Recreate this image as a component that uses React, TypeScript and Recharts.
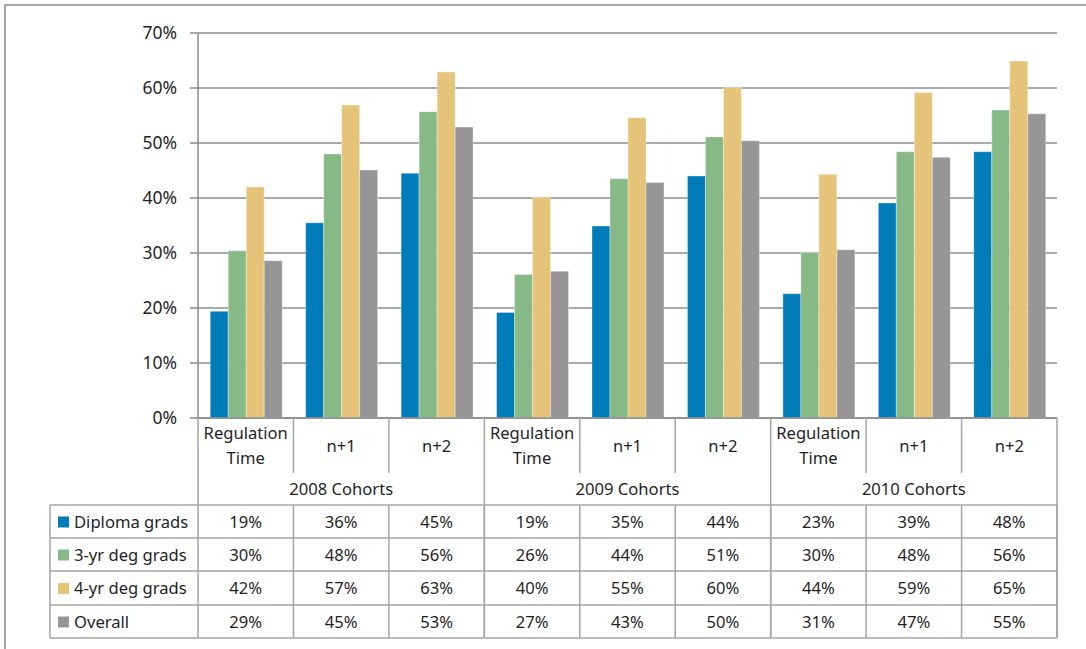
import React from "react";
import { BarChart, Bar, XAxis, YAxis, CartesianGrid } from "recharts";

const cohorts = ["2008 Cohorts", "2009 Cohorts", "2010 Cohorts"];
const periods = ["Regulation Time", "n+1", "n+2"];
const seriesNames = ["Diploma grads", "3-yr deg grads", "4-yr deg grads", "Overall"];
const seriesColors = ["#007DB8", "#86B985", "#E5C47A", "#969696"];

// values in %, cohort-major order (2008 RT, n+1, n+2, 2009 ..., 2010 ...)
const diploma = [19.4, 35.5, 44.5, 19.2, 34.9, 44.0, 22.6, 39.1, 48.4];
const threeYr = [30.4, 48.0, 55.7, 26.1, 43.5, 51.1, 30.1, 48.4, 56.0];
const fourYr = [42.0, 56.9, 62.9, 40.1, 54.6, 60.1, 44.3, 59.2, 64.9];
const overall = [28.6, 45.1, 52.9, 26.7, 42.8, 50.4, 30.6, 47.4, 55.3];
const yTicks = [0, 10, 20, 30, 40, 50, 60, 70];

const seriesKeys = ["diploma", "threeYr", "fourYr", "overall"];
const seriesValues = [diploma, threeYr, fourYr, overall];

const data = cohorts.flatMap((c, ci) =>
  periods.map((p, pi) => {
    const i = ci * 3 + pi;
    return {
      key: `${c}|${p}`,
      cohort: c,
      period: p,
      diploma: diploma[i],
      threeYr: threeYr[i],
      fourYr: fourYr[i],
      overall: overall[i],
    };
  })
);

// layout
const W = 1086;
const H = 649;
const PLOT_LEFT = 198;
const PLOT_RIGHT = 1057;
const PLOT_TOP = 33;
const PLOT_BOTTOM = 418;
const COL_W = (PLOT_RIGHT - PLOT_LEFT) / data.length;
const CAT_BOTTOM = 473;
const ROW_LINES = [505, 538, 571, 605, 638];
const TABLE_LEFT = 50;
const FONT = "'Noto Sans', sans-serif";
const FS = 16.6;
const TEXT = "#1F1F1F";
const TABLE_LINE = "#A5A5A5";
const GRID = "#8C8C8C";

function TableTick(props: any) {
  const { x, index } = props;
  const d = data[index];
  if (!d) return null;
  const left = x - COL_W / 2;
  const right = x + COL_W / 2;
  const pi = index % 3;
  const lastOfCohort = pi === 2;
  const els: React.ReactNode[] = [];

  // category label
  if (d.period === "Regulation Time") {
    els.push(
      <text key="l1" x={x} y={439} textAnchor="middle" fontSize={FS} fill={TEXT} fontFamily={FONT}>
        Regulation
      </text>,
      <text key="l2" x={x} y={464} textAnchor="middle" fontSize={FS} fill={TEXT} fontFamily={FONT}>
        Time
      </text>
    );
  } else {
    els.push(
      <text key="l1" x={x} y={452} textAnchor="middle" fontSize={FS} fill={TEXT} fontFamily={FONT}>
        {d.period}
      </text>
    );
  }

  // cohort label
  if (pi === 1) {
    els.push(
      <text key="coh" x={x} y={495} textAnchor="middle" fontSize={FS} fill={TEXT} fontFamily={FONT}>
        {d.cohort}
      </text>
    );
  }

  // vertical separators
  els.push(
    <line
      key="vr"
      x1={right}
      x2={right}
      y1={PLOT_BOTTOM}
      y2={lastOfCohort ? ROW_LINES[4] : CAT_BOTTOM}
      stroke={TABLE_LINE}
      strokeWidth={1.5}
    />,
    <line key="vt" x1={right} x2={right} y1={ROW_LINES[0]} y2={ROW_LINES[4]} stroke={TABLE_LINE} strokeWidth={1.5} />
  );
  if (index === 0) {
    els.push(
      <line key="vl" x1={left} x2={left} y1={PLOT_BOTTOM} y2={ROW_LINES[4]} stroke={TABLE_LINE} strokeWidth={1.5} />
    );
  }

  // horizontal table lines
  ROW_LINES.forEach((ly, li) =>
    els.push(
      <line key={`h${li}`} x1={left} x2={right} y1={ly} y2={ly} stroke={TABLE_LINE} strokeWidth={1.5} />
    )
  );

  // values
  seriesValues.forEach((vals, si) => {
    const cy = (ROW_LINES[si] + ROW_LINES[si + 1]) / 2;
    els.push(
      <text key={`v${si}`} x={x} y={cy + 6} textAnchor="middle" fontSize={FS} fill={TEXT} fontFamily={FONT}>
        {`${Math.round(vals[index])}%`}
      </text>
    );
  });

  // legend column
  if (index === 0) {
    els.push(
      <line key="ll" x1={TABLE_LEFT} x2={TABLE_LEFT} y1={ROW_LINES[0]} y2={ROW_LINES[4]} stroke={TABLE_LINE} strokeWidth={1.5} />
    );
    ROW_LINES.forEach((ly, li) =>
      els.push(
        <line key={`lh${li}`} x1={TABLE_LEFT} x2={left} y1={ly} y2={ly} stroke={TABLE_LINE} strokeWidth={1.5} />
      )
    );
    seriesNames.forEach((name, si) => {
      const cy = (ROW_LINES[si] + ROW_LINES[si + 1]) / 2;
      els.push(
        <rect key={`lr${si}`} x={58} y={cy - 5} width={11} height={11} fill={seriesColors[si]} />,
        <text key={`lt${si}`} x={74} y={cy + 6} fontSize={FS} fill={TEXT} fontFamily={FONT}>
          {name}
        </text>
      );
    });
  }

  return <g>{els}</g>;
}

export default function App() {
  return (
    <div style={{ position: "absolute", left: 0, top: 0, width: W, height: H, background: "#fff" }}>
      <div
        style={{
          position: "absolute",
          left: 4,
          top: 4,
          width: W,
          height: H,
          borderLeft: "2px solid #A6A6A6",
          borderTop: "2px solid #A6A6A6",
          boxSizing: "border-box",
        }}
      />
      <div style={{ position: "absolute", left: 0, top: 0 }}>
        <BarChart
          width={W}
          height={H}
          data={data}
          margin={{ top: PLOT_TOP, right: W - PLOT_RIGHT, bottom: 0, left: 0 }}
          barCategoryGap="12.8%"
          barGap={0}
        >
          <CartesianGrid vertical={false} stroke={GRID} strokeWidth={1.5} />
          <YAxis
            width={PLOT_LEFT}
            domain={[0, 70]}
            ticks={yTicks}
            tickFormatter={(v: number) => `${v}%`}
            tick={{ fill: TEXT, fontSize: 17.5, fontFamily: FONT }}
            tickSize={8}
            tickMargin={13}
            axisLine={{ stroke: GRID, strokeWidth: 1.5 }}
            tickLine={{ stroke: GRID, strokeWidth: 1.5 }}
          />
          <XAxis
            dataKey="key"
            height={H - PLOT_BOTTOM}
            interval={0}
            tick={<TableTick />}
            tickLine={false}
            axisLine={{ stroke: GRID, strokeWidth: 1.5 }}
          />
          {seriesKeys.map((k, si) => (
            <Bar
              key={k}
              dataKey={k}
              fill={seriesColors[si]}
              stroke="#ffffff"
              strokeOpacity={0.35}
              strokeWidth={1}
              isAnimationActive={false}
            />
          ))}
        </BarChart>
      </div>
    </div>
  );
}
